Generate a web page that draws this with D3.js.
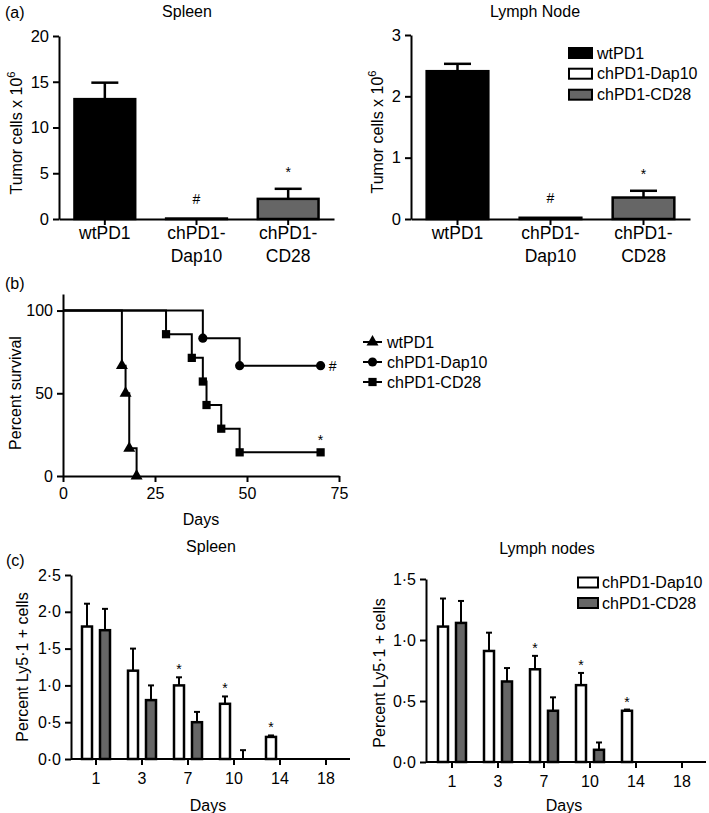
<!DOCTYPE html>
<html><head><meta charset="utf-8">
<script src="https://cdn.jsdelivr.net/npm/d3@7"></script>
<style>
body{margin:0;background:#fff}
text{font-family:"Liberation Sans",Arial,Helvetica,sans-serif;fill:#000}
</style>
</head><body>
<svg id="c" width="709" height="813"></svg>
<script>
// ---------- DATA ----------
// Panel (a)
const groupsA = ["wtPD1", "chPD1-Dap10", "chPD1-CD28"];
const groupLabelsA = [["wtPD1"], ["chPD1-", "Dap10"], ["chPD1-", "CD28"]];
const spleenTumor = [13.1, 0.05, 2.2];
const spleenTumorErr = [14.9, 0.05, 3.3];
const spleenSigA = ["", "#", "*"];
const lnTumor = [2.41, 0.02, 0.35];
const lnTumorErr = [2.53, 0.02, 0.46];
const lnSigA = ["", "#", "*"];
const spleenTicksA = [0, 5, 10, 15, 20];
const lnTicksA = [0, 1, 2, 3];
const fillsA = ["#000000", "#ffffff", "#666666"];

// Panel (b) Kaplan-Meier
const survSeries = ["wtPD1", "chPD1-Dap10", "chPD1-CD28"];
const wtDays = [0, 16, 17, 18, 20];
const wtSurv = [100, 66.7, 50, 16.7, 0];
const dapDays = [0, 38, 48, 70];
const dapSurv = [100, 83.3, 66.7, 66.7];
const cdDays = [0, 28, 35, 38, 39, 43, 48, 70];
const cdSurv = [100, 85.7, 71.4, 57.1, 42.9, 28.6, 14.3, 14.3];
const survSig = ["", "#", "*"];
const survXTicks = [0, 25, 50, 75];
const survYTicks = [0, 50, 100];

// Panel (c)
const daysC = ["1", "3", "7", "10", "14", "18"];
const seriesC = ["chPD1-Dap10", "chPD1-CD28"];
const fillsC = ["#ffffff", "#666666"];
const spleenDap10 = [1.8, 1.2, 1.0, 0.75, 0.3, null];
const spleenDap10Err = [2.11, 1.5, 1.11, 0.85, 0.32, null];
const spleenCD28 = [1.75, 0.8, 0.5, 0, null, null];
const spleenCD28Err = [2.04, 1.0, 0.64, 0.12, null, null];
const spleenSigC = ["", "", "*", "*", "*", ""];
const lnDap10 = [1.11, 0.91, 0.76, 0.63, 0.42, null];
const lnDap10Err = [1.34, 1.06, 0.87, 0.73, 0.43, null];
const lnCD28 = [1.14, 0.66, 0.42, 0.1, null, null];
const lnCD28Err = [1.32, 0.77, 0.53, 0.16, null, null];
const lnSigC = ["", "", "*", "*", "*", ""];
const spleenTicksC = [0, 0.5, 1.0, 1.5, 2.0, 2.5];
const lnTicksC = [0, 0.5, 1.0, 1.5];

// ---------- DRAW ----------
const svg = d3.select("#c");
const FS = 16;
const sigOffset = s => s === "*" ? 8 : 5;

function styleAxis(g) {
  g.selectAll(".domain").attr("stroke", "#000").attr("stroke-width", 2);
  g.selectAll(".tick line").attr("stroke", "#000").attr("stroke-width", 2);
  g.selectAll(".tick text").attr("font-size", FS).attr("fill", "#000")
    .style("font-family", '"Liberation Sans",Arial,sans-serif');
}

function yLabel(x, y, main, sup) {
  const t = svg.append("text").attr("transform", `translate(${x},${y}) rotate(-90)`)
    .attr("text-anchor", "middle").attr("font-size", FS).text(main);
  if (sup) t.append("tspan").attr("font-size", 11).attr("dy", -7).text(sup);
}

function label(x, y, txt, anchor = "middle", size = FS) {
  svg.append("text").attr("x", x).attr("y", y).attr("text-anchor", anchor)
    .attr("font-size", size).text(txt);
}

function errorBar(g, cx, y, v, e, capW, sw) {
  if (e == null || v == null || e <= v) return;
  g.append("line").attr("x1", cx).attr("x2", cx).attr("y1", y(v)).attr("y2", y(e))
    .attr("stroke", "#000").attr("stroke-width", sw);
  g.append("line").attr("x1", cx - capW / 2).attr("x2", cx + capW / 2).attr("y1", y(e)).attr("y2", y(e))
    .attr("stroke", "#000").attr("stroke-width", sw);
}

// Panel (a)
function panelA(o) {
  const x = d3.scaleBand().domain(groupsA).range([o.x0, o.x1]).paddingInner(0.31).paddingOuter(0.155);
  const y = d3.scaleLinear().domain([0, o.max]).range([o.yb, o.yt]);
  const g = svg.append("g");
  const sw = 2.5;
  groupsA.forEach((k, i) => {
    const v = o.vals[i];
    g.append("rect").attr("x", x(k) + sw / 2).attr("width", x.bandwidth() - sw)
      .attr("y", y(v)).attr("height", Math.max(0, y(0) - y(v)))
      .attr("fill", fillsA[i]).attr("stroke", "#000").attr("stroke-width", sw);
    const cx = x(k) + x.bandwidth() / 2;
    errorBar(g, cx, y, v, o.errs[i], 27, sw);
    if (o.sig[i]) {
      const top = Math.max(o.errs[i], v);
      svg.append("text").attr("x", cx).attr("y", y(top) - 20 + sigOffset(o.sig[i]))
        .attr("text-anchor", "middle").attr("font-size", 14).text(o.sig[i]);
    }
  });
  svg.append("g").attr("transform", `translate(${o.x0},0)`)
    .call(d3.axisLeft(y).tickValues(o.ticks).tickFormat(d3.format("d")).tickSize(6).tickPadding(4).tickSizeOuter(0))
    .call(styleAxis)
    .call(g => g.selectAll(".tick text").attr("font-size", 16.5));
  svg.append("g").attr("transform", `translate(0,${o.yb})`)
    .call(d3.axisBottom(x).tickSize(6).tickSizeOuter(0).tickFormat(""))
    .call(styleAxis);
  groupsA.forEach((k, i) => {
    const cx = x(k) + x.bandwidth() / 2;
    groupLabelsA[i].forEach((ln, j) => label(cx, o.yb + 20 + j * 23, ln, "middle", 17.5));
  });
  label(o.titleX, 17, o.title);
  yLabel(o.ylx, o.yly, "Tumor cells x 10", "6");
}

panelA({x0: 59, x1: 334, yb: 219, yt: 36, max: 20, ticks: spleenTicksA,
  vals: spleenTumor, errs: spleenTumorErr, sig: spleenSigA, title: "Spleen", titleX: 187, ylx: 22, yly: 133});
panelA({x0: 411, x1: 690, yb: 219, yt: 35, max: 3, ticks: lnTicksA,
  vals: lnTumor, errs: lnTumorErr, sig: lnSigA, title: "Lymph Node", titleX: 535, ylx: 383, yly: 132});
label(5, 18, "(a)", "start");

// Legend (a)
groupsA.forEach((k, i) => {
  const cy = [53, 73.7, 94.7][i];
  svg.append("rect").attr("x", 569).attr("y", cy - 5).attr("width", 23).attr("height", 10)
    .attr("fill", fillsA[i]).attr("stroke", "#000").attr("stroke-width", 2);
  label(597, cy + 5.5, k, "start");
});

// Panel (b)
(function () {
  const x = d3.scaleLinear().domain([0, 75]).range([63, 339]);
  const y = d3.scaleLinear().domain([0, 110]).range([476, 294]);
  const line = d3.line().x(d => x(d[0])).y(d => y(d[1])).curve(d3.curveStepAfter);
  const sets = [
    {days: wtDays, surv: wtSurv, sym: d3.symbolTriangle, size: 62},
    {days: dapDays, surv: dapSurv, sym: d3.symbolCircle, size: 66},
    {days: cdDays, surv: cdSurv, sym: d3.symbolSquare, size: 68}
  ];
  const g = svg.append("g");
  sets.forEach(s => {
    const pts = s.days.map((d, i) => [d, s.surv[i]]);
    g.append("path").attr("d", line(pts)).attr("fill", "none").attr("stroke", "#000").attr("stroke-width", 2);
  });
  sets.forEach(s => {
    s.days.forEach((d, i) => {
      if (i === 0) return;
      g.append("path").attr("d", d3.symbol().type(s.sym).size(s.size)())
        .attr("transform", `translate(${x(d)},${y(s.surv[i])})`).attr("fill", "#000");
    });
  });
  svg.append("g").attr("transform", "translate(63,0)")
    .call(d3.axisLeft(y).tickValues(survYTicks).tickSize(6).tickPadding(4).tickSizeOuter(0))
    .call(styleAxis);
  svg.append("g").attr("transform", "translate(0,476)")
    .call(d3.axisBottom(x).tickValues(survXTicks).tickSize(6).tickPadding(6).tickSizeOuter(0))
    .call(styleAxis);
  // significance marks
  const lastDap = dapDays.length - 1, lastCd = cdDays.length - 1;
  label(x(dapDays[lastDap]) + 12, y(dapSurv[lastDap]) + sigOffset(survSig[1]), survSig[1], "middle", 14);
  label(x(cdDays[lastCd]), y(cdSurv[lastCd]) - 15 + sigOffset(survSig[2]), survSig[2], "middle", 14);
  label(201, 525, "Days");
  yLabel(21, 393, "Percent survival");
  label(5, 289, "(b)", "start");
  // legend
  sets.forEach((s, i) => {
    const cy = 342 + i * 20;
    svg.append("line").attr("x1", 363).attr("x2", 382).attr("y1", cy).attr("y2", cy)
      .attr("stroke", "#000").attr("stroke-width", 2);
    svg.append("path").attr("d", d3.symbol().type(s.sym).size(s.size)())
      .attr("transform", `translate(372.5,${cy})`).attr("fill", "#000");
    label(387, cy + 5.5, survSeries[i], "start");
  });
})();

// Panel (c)
function panelC(o) {
  const x = d3.scaleBand().domain(daysC).range([o.bx0, o.bx1]);
  const y = d3.scaleLinear().domain([0, o.max]).range([o.yb, o.yt]);
  const sw = 2.5;
  const g = svg.append("g");
  const series = [[o.dap, o.dapErr], [o.cd, o.cdErr]];
  const xs = d3.scaleBand().domain(seriesC).range([-15.25, 15.25]).paddingInner(0.305);
  daysC.forEach((d, i) => {
    const c = x(d) + x.bandwidth() / 2;
    series.forEach(([vals, errs], j) => {
      const v = vals[i];
      if (v == null) return;
      const bx = c + xs(seriesC[j]);
      const cx = bx + xs.bandwidth() / 2;
      if (v > 0) {
        g.append("rect").attr("x", bx + sw / 2).attr("width", xs.bandwidth() - sw)
          .attr("y", y(v)).attr("height", y(0) - y(v))
          .attr("fill", fillsC[j]).attr("stroke", "#000").attr("stroke-width", sw);
      }
      errorBar(g, cx, y, v, errs[i], 6, 2);
    });
    if (o.sig[i]) {
      const c0 = c + xs(seriesC[0]) + xs.bandwidth() / 2;
      const top = o.dapErr[i];
      label(c0, y(top) - 11 + sigOffset(o.sig[i]), o.sig[i], "middle", 14);
    }
  });
  const fmt = v => d3.format(".1f")(v).replace(".", "·");
  svg.append("g").attr("transform", `translate(${o.ax},0)`)
    .call(d3.axisLeft(y).tickValues(o.ticks).tickFormat(fmt).tickSize(6).tickPadding(4).tickSizeOuter(0))
    .call(styleAxis);
  svg.append("g").attr("transform", `translate(0,${o.yb})`)
    .call(d3.axisBottom(x).tickSize(6).tickPadding(8).tickSizeOuter(0))
    .call(styleAxis)
    .call(g => g.select(".domain").attr("d", `M${o.ax},0H${o.bx1 + 1}`));
  label(o.titleX, o.titleY, o.title);
  label((o.bx0 + o.bx1) / 2 - 3, 811, "Days");
  yLabel(o.ylx, o.yly, "Percent Ly5·1 + cells");
}

panelC({ax: 71, bx0: 73, bx1: 349, yb: 759, yt: 575, max: 2.5, ticks: spleenTicksC,
  dap: spleenDap10, dapErr: spleenDap10Err, cd: spleenCD28, cdErr: spleenCD28Err, sig: spleenSigC,
  title: "Spleen", titleX: 211, titleY: 552, ylx: 28, yly: 667});
panelC({ax: 426, bx0: 429, bx1: 705, yb: 762, yt: 579, max: 1.5, ticks: lnTicksC,
  dap: lnDap10, dapErr: lnDap10Err, cd: lnCD28, cdErr: lnCD28Err, sig: lnSigC,
  title: "Lymph nodes", titleX: 547, titleY: 554, ylx: 385, yly: 673});
label(6, 566, "(c)", "start");

// Legend (c)
seriesC.forEach((k, i) => {
  const cy = [582.5, 603][i];
  svg.append("rect").attr("x", 578).attr("y", cy - 5).attr("width", 20).attr("height", 10)
    .attr("fill", fillsC[i]).attr("stroke", "#000").attr("stroke-width", 2);
  label(602, cy + 5.5, k, "start");
});
</script>
</body></html>
